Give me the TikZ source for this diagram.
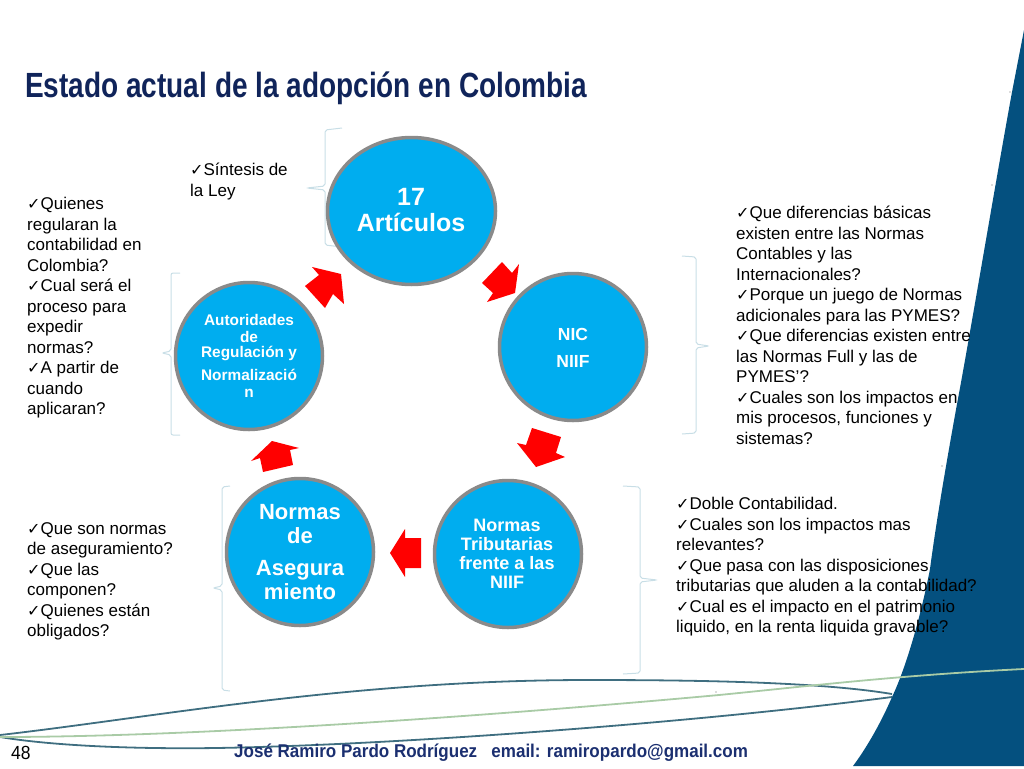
\documentclass[tikz,border=0pt]{standalone}
\usepackage{fontspec}
\usetikzlibrary{shapes.geometric}
\setmainfont{Liberation Sans}
\newfontfamily\narrowfont[FakeStretch=0.8]{Liberation Sans}
\newfontfamily\footfont[FakeStretch=0.92]{Liberation Sans}
\newfontfamily\checkfont{DejaVu Sans}
\newcommand{\ck}{{\checkfont\fontsize{16}{16}\selectfont ✓}}
\definecolor{circblue}{HTML}{00ADEF}
\definecolor{ringgray}{HTML}{8A8A8A}
\definecolor{bandblue}{HTML}{04507F}
\definecolor{navy}{HTML}{10245A}
\definecolor{footnavy}{HTML}{1B2F70}
\definecolor{bracecol}{HTML}{C8DEE6}
\definecolor{linedark}{HTML}{3F6E80}
\definecolor{linegreen}{HTML}{A9CBA6}
\tikzset{
  x=1pt,y=-1pt,
  circ/.style={circle,draw=ringgray,line width=3.5pt,fill=circblue,minimum size=147pt,inner sep=0pt},
  ovalc/.style={ellipse,draw=ringgray,line width=3.5pt,fill=circblue,minimum width=168pt,minimum height=147pt,inner sep=0pt},
  ctext/.style={text=white,font=\bfseries,align=center,inner sep=0pt},
  body/.style={anchor=north west,align=left,inner sep=0pt,text=black,font=\fontsize{17}{20.5}\selectfont},
  redarrow/.style={fill=red,draw=none},
  bracket/.style={draw=bracecol,line width=1pt,rounded corners=2pt},
  speck/.style={fill=black!60,draw=none}
}
\begin{document}
\begin{tikzpicture}
\useasboundingbox (0,0) rectangle (1024,768);
% blue band
\fill[bandblue] (1024,30) -- (1012,92) .. controls (995,185) and (970,335) .. (957,404) .. controls (945,470) and (935,530) .. (930,569) .. controls (920,620) and (905,670) .. (892,697) .. controls (880,725) and (865,750) .. (853,766) -- (1024,766) -- cycle;
% curves
\draw[linedark,line width=1.8pt] (0,735) .. controls (150,718) and (350,680) .. (588,680) .. controls (700,680) and (820,682) .. (892,694);
\draw[linedark,line width=1.8pt] (0,737) .. controls (60,747) and (150,749) .. (216,748) .. controls (400,745) and (700,722) .. (892,697);
\draw[linegreen,line width=1.8pt] (0,737) .. controls (200,737) and (500,715) .. (719,695) .. controls (800,687) and (900,675) .. (1024,669);
% specks
\fill[speck] (1010,92) circle (.7pt) (992,185) circle (.7pt) (942,466) circle (.7pt) (716,692) circle (.7pt);
% title and footer
\node[anchor=west,inner sep=0pt,text=navy] (title) at (25,88) {\narrowfont\bfseries\fontsize{35}{38}\selectfont Estado actual de la adopción en Colombia};
\node[anchor=west,inner sep=0pt,text=footnavy] (foot) at (234,753) {\footfont\bfseries\fontsize{18.5}{20}\selectfont José Ramiro Pardo Rodríguez\ \ \ email: ramiropardo@gmail.com};
\node[anchor=west,inner sep=0pt] (pagenum) at (11,753) {\footfont\fontsize{19}{20}\selectfont 48};
% brackets
\draw[bracket] (342,128) -- (325,130) -- (325,186) -- (307,188) -- (325,190) -- (325,245) -- (342,247);
\draw[bracket] (180,273) -- (171,273) -- (171,351) -- (162,353) -- (171,355) -- (171,435) -- (180,435);
\draw[bracket] (682,256) -- (696,257) -- (696,344) -- (709,346) -- (696,348) -- (696,433) -- (682,434);
\draw[bracket] (623,486) -- (640,487) -- (640,578) -- (657,580) -- (640,582) -- (640,673) -- (623,674);
\draw[bracket] (230,486) -- (222,487) -- (222,586) -- (213,588) -- (222,590) -- (222,690) -- (230,691);
% circles
\node[ovalc] (art) at (411.5,211) {};
\node[circ] (nic) at (573,347) {};
\node[circ] (trib) at (508,554) {};
\node[circ] (aseg) at (300,552) {};
\node[circ] (aut) at (249,356) {};
% circle labels
\node[ctext,font=\bfseries\fontsize{25}{26}\selectfont] (artl) at (411,210.5) {17\\Artículos};
\node[ctext,font=\bfseries\fontsize{17.5}{27}\selectfont] (nicl) at (573,347.5) {NIC\\NIIF};
\node[ctext,font=\bfseries\fontsize{18}{19}\selectfont] (tribl) at (507,553.5) {Normas\\Tributarias\\frente a las\\NIIF};
\node[ctext,font=\bfseries\fontsize{22}{24}\selectfont] (asegl) at (300,552) {Normas\\de\\[8pt]Asegura\\miento};
\node[ctext,font=\bfseries\fontsize{15.4}{15}\selectfont] (autl) at (249,356) {Autoridades\\[2pt]de\\Regulación y\\[8pt]Normalizació\\[2pt]n};
% red arrows
\fill[redarrow] (305,286) -- (319,275) -- (312,267) -- (341,274) -- (344,304) -- (333,294) -- (325,308) -- cycle;
\fill[redarrow] (482,283) -- (502,262) -- (512,273) -- (519,264) -- (515,293) -- (487,302) -- (493,293) -- cycle;
\fill[redarrow] (532,428) -- (561,437) -- (556,453) -- (565,457) -- (536,467) -- (517,443) -- (526,445) -- cycle;
\fill[redarrow] (421,538) -- (421,568) -- (405,568) -- (405,577) -- (390,553) -- (405,529) -- (405,538) -- cycle;
\fill[redarrow] (263,472) -- (293,465) -- (290,450) -- (299,448) -- (272,441) -- (251,461) -- (260,458) -- cycle;
% body texts
\node[body] (t1) at (190,163) {\ck Síntesis de\\la Ley};
\node[body] (t2) at (27,197) {\ck Quienes\\regularan la\\contabilidad en\\Colombia?\\\ck Cual será el\\proceso para\\expedir\\normas?\\\ck A partir de\\cuando\\aplicaran?};
\node[body] (t3) at (736,206) {\ck Que diferencias básicas\\existen entre las Normas\\Contables y las\\Internacionales?\\\ck Porque un juego de Normas\\adicionales para las PYMES?\\\ck Que diferencias existen entre\\las Normas Full y las de\\PYMES’?\\\ck Cuales son los impactos en\\mis procesos, funciones y\\sistemas?};
\node[body] (t4) at (676,497) {\ck Doble Contabilidad.\\\ck Cuales son los impactos mas\\relevantes?\\\ck Que pasa con las disposiciones\\tributarias que aluden a la contabilidad?\\\ck Cual es el impacto en el patrimonio\\liquido, en la renta liquida gravable?};
\node[body] (t5) at (27,522) {\ck Que son normas\\de aseguramiento?\\\ck Que las\\componen?\\\ck Quienes están\\obligados?};
\end{tikzpicture}
\end{document}
